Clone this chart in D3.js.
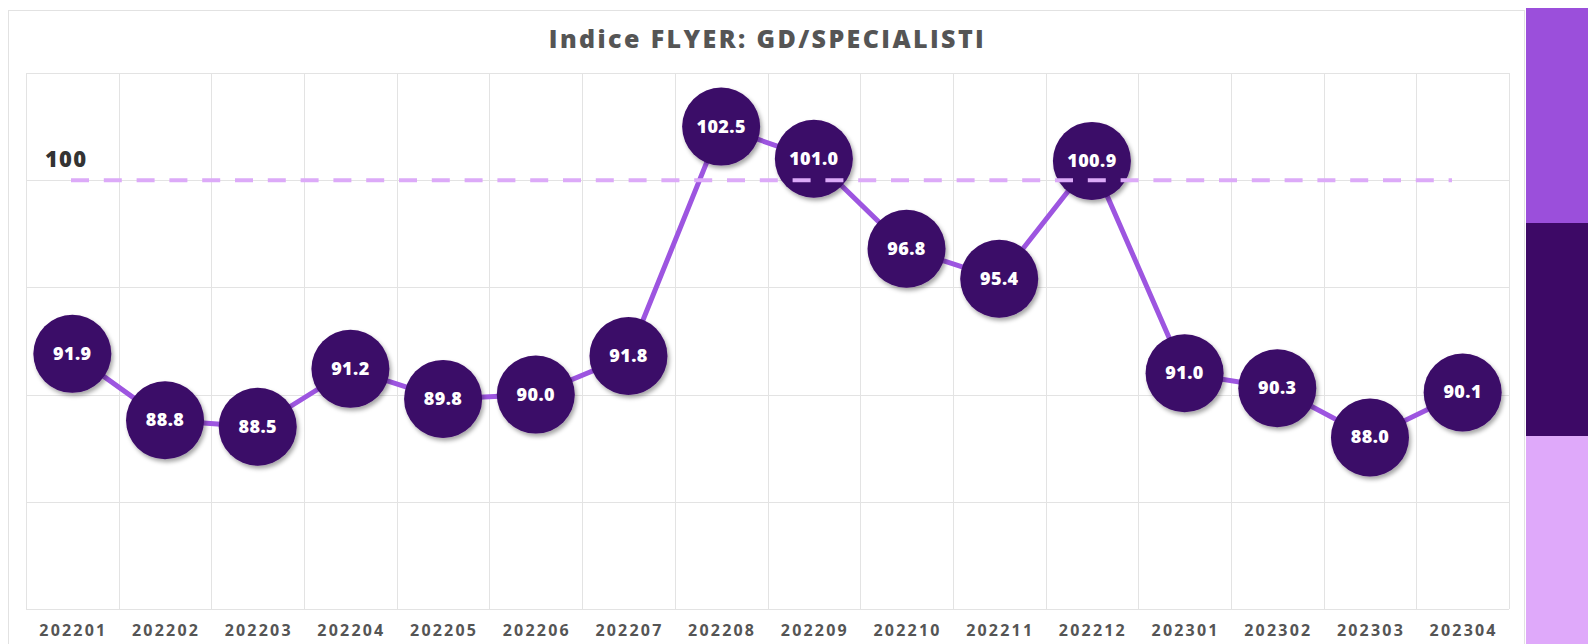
<!DOCTYPE html>
<html>
<head>
<style>
  body { margin: 0; background: #fff; }
  svg text { font-family: "Open Sans", "DejaVu Sans", sans-serif; }
</style>
</head>
<body>

<script src="https://d3js.org/d3.v7.min.js"></script>
<script>

const months = ['202201', '202202', '202203', '202204', '202205', '202206', '202207', '202208',
                '202209', '202210', '202211', '202212', '202301', '202302', '202303', '202304'];
const values = [91.9, 88.8, 88.5, 91.2, 89.8, 90.0, 91.8, 102.5,
                101.0, 96.8, 95.4, 100.9, 91.0, 90.3, 88.0, 90.1];
const yTicks = [80, 85, 90, 95, 100, 105];
const refValue = 100;
const title = 'Indice FLYER: GD/SPECIALISTI';

const width = 1588;
const height = 644;

const svg = d3.select('body')
              .append('svg')
              .attr('width', width)
              .attr('height', height);

const defs = svg.append('defs');
defs.append('filter')
    .attr('id', 'shadow')
    .attr('x', '-30%').attr('y', '-30%')
    .attr('width', '170%').attr('height', '170%')
    .append('feDropShadow')
    .attr('dx', 2)
    .attr('dy', 3)
    .attr('stdDeviation', 2)
    .attr('flood-color', '#000')
    .attr('flood-opacity', 0.35);

// card + side colour strips
svg.append('rect')
   .attr('x', 8.5).attr('y', 10.5)
   .attr('width', 1516).attr('height', 700)
   .attr('fill', '#fff')
   .attr('stroke', '#e2e2e2');

const strips = [['#9b4fdb', 8, 223], ['#3d0966', 223, 436], ['#dfa9fa', 436, 644]];
svg.selectAll('rect.strip')
   .data(strips)
   .enter()
   .append('rect')
   .attr('class', 'strip')
   .attr('x', 1526)
   .attr('y', d => d[1])
   .attr('width', width - 1526)
   .attr('height', d => d[2] - d[1])
   .attr('fill', d => d[0]);

const x = d3.scaleBand()
            .domain(months)
            .range([26, 1509])
            .padding(0);

const y = d3.scaleLinear()
            .domain([80, 105])
            .range([609, 73]);

const cx = d => x(d) + x.bandwidth() / 2;

// grid
const grid = svg.append('g').attr('stroke', '#e3e3e3').attr('stroke-width', 1);
const edges = months.map(m => x(m)).concat([x.range()[1]]);
grid.selectAll('line.v')
    .data(edges)
    .enter()
    .append('line')
    .attr('x1', d => Math.round(d) + 0.5)
    .attr('x2', d => Math.round(d) + 0.5)
    .attr('y1', y(105))
    .attr('y2', y(80));
grid.selectAll('line.h')
    .data(yTicks)
    .enter()
    .append('line')
    .attr('x1', x.range()[0])
    .attr('x2', x.range()[1])
    .attr('y1', d => Math.round(y(d)) + 0.5)
    .attr('y2', d => Math.round(y(d)) + 0.5);

// x labels
svg.append('g')
   .selectAll('text')
   .data(months)
   .enter()
   .append('text')
   .attr('x', d => cx(d) + 1)
   .attr('y', 636)
   .attr('text-anchor', 'middle')
   .attr('font-size', 16)
   .attr('font-weight', 700)
   .attr('letter-spacing', 2.2)
   .attr('fill', '#555')
   .text(d => d);

// title
svg.append('text')
   .attr('x', (x.range()[0] + x.range()[1]) / 2)
   .attr('y', 48)
   .attr('text-anchor', 'middle')
   .attr('font-size', 25)
   .attr('font-weight', 800)
   .attr('letter-spacing', 2.4)
   .attr('fill', '#555')
   .text(title);

// reference label
svg.append('text')
   .attr('x', 45)
   .attr('y', y(refValue) - 13)
   .attr('font-size', 22)
   .attr('font-weight', 800)
   .attr('letter-spacing', 1.2)
   .attr('fill', '#333')
   .text(refValue);

// series line
const line = d3.line()
               .x((d, i) => cx(months[i]))
               .y(d => y(d));

svg.append('path')
   .datum(values)
   .attr('fill', 'none')
   .attr('stroke', '#9d55e0')
   .attr('stroke-width', 5)
   .attr('d', line);

// bubbles
svg.append('g')
   .selectAll('circle')
   .data(values)
   .enter()
   .append('circle')
   .attr('cx', (d, i) => cx(months[i]))
   .attr('cy', d => y(d))
   .attr('r', 39)
   .attr('fill', '#3b0868')
   .attr('filter', 'url(#shadow)');

// dashed reference line (sits over the bubbles)
svg.append('line')
   .attr('x1', 71)
   .attr('x2', 1452)
   .attr('y1', y(refValue))
   .attr('y2', y(refValue))
   .attr('stroke', '#dcaaf8')
   .attr('stroke-width', 4)
   .attr('stroke-dasharray', '18 14.8');

// values in bubbles
svg.append('g')
   .selectAll('text')
   .data(values)
   .enter()
   .append('text')
   .attr('x', (d, i) => cx(months[i]))
   .attr('y', d => y(d) + 6)
   .attr('text-anchor', 'middle')
   .attr('font-size', 18)
   .attr('font-weight', 800)
   .attr('letter-spacing', 0.4)
   .attr('fill', '#fff')
   .text(d => d.toFixed(1));

</script>
</body>
</html>
